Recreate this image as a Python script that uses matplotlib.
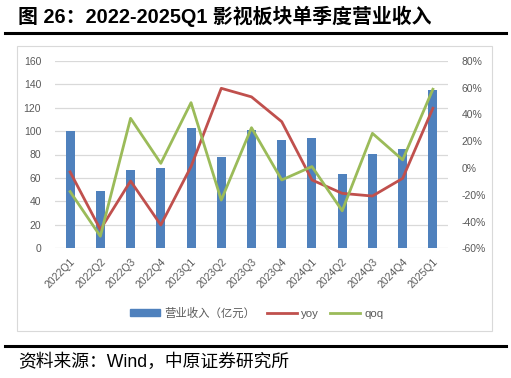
import matplotlib
matplotlib.use("Agg")
import matplotlib.pyplot as plt
import matplotlib.patches as mpatches
from matplotlib.lines import Line2D
import numpy as np

plt.rcParams['font.family'] = ['Liberation Sans', 'Noto Sans CJK SC', 'DejaVu Sans']

quarters = ["2022Q1", "2022Q2", "2022Q3", "2022Q4", "2023Q1", "2023Q2", "2023Q3",
            "2023Q4", "2024Q1", "2024Q2", "2024Q3", "2024Q4", "2025Q1"]
revenue = [100.0, 48.6, 66.8, 68.8, 102.3, 77.9, 101.0, 92.6, 93.8, 63.4, 80.2, 85.0, 135.0]
yoy = [-3.0, -46.0, -9.8, -42.6, 1.0, 59.4, 53.0, 34.5, -9.0, -19.0, -21.0, -7.8, 44.5]
qoq = [-17.7, -51.0, 37.0, 3.4, 48.7, -24.0, 30.0, -9.0, 1.0, -32.0, 25.8, 6.0, 58.7]
left_ticks = [0, 20, 40, 60, 80, 100, 120, 140, 160]
right_ticks = [-60, -40, -20, 0, 20, 40, 60, 80]

BAR = "#4F81BD"
RED = "#C0504D"
GREEN = "#9BBB59"
TICKC = "#595959"

W, H = 511, 378
fig = plt.figure(figsize=(W / 100, H / 100), dpi=100)

# title
fig.text(18 / W, 1 - 16 / H, "图 26：2022-2025Q1 影视板块单季度营业收入", fontsize=14.3,
         fontweight="bold", ha="left", va="center", color="#000000")
fig.add_artist(Line2D([5 / W, 506 / W], [1 - 33 / H, 1 - 33 / H], color="black", lw=2.2,
                      transform=fig.transFigure))
# chart frame
fig.add_artist(mpatches.Rectangle((17 / W, 1 - 331 / H), (492 - 17) / W, (331 - 46) / H,
                                  transform=fig.transFigure, fill=False,
                                  edgecolor="#D9D9D9", lw=0.8))
# bottom rule and source
fig.add_artist(Line2D([5 / W, 506 / W], [1 - 346 / H, 1 - 346 / H], color="black", lw=2.2,
                      transform=fig.transFigure))
fig.text(18 / W, 1 - 362 / H, "资料来源：Wind，中原证券研究所", fontsize=12.8,
         ha="left", va="center", color="#000000")

ax = fig.add_axes([55 / W, 1 - 248.3 / H, 393 / W, (248.3 - 60.7) / H])
x = np.arange(len(quarters))
ax.bar(x, revenue, width=0.3, color=BAR, zorder=2)
ax.set_xlim(-0.5, len(quarters) - 0.5)
ax.set_ylim(0, 160)
ax.set_yticks(left_ticks)
ax.grid(axis="y", color="#D9D9D9", lw=0.9, zorder=0)
ax.set_axisbelow(True)
for s in ax.spines.values():
    s.set_visible(False)
ax.tick_params(axis="both", length=0, colors=TICKC, labelsize=7.5)
ax.tick_params(axis="y", pad=10)
ax.set_xticks(x)
ax.set_xticklabels(quarters, rotation=45, ha="right", rotation_mode="anchor")
ax.tick_params(axis="x", pad=6)

ax2 = ax.twinx()
ax2.plot(x, yoy, color=RED, lw=2.0, zorder=3, solid_joinstyle="round")
ax2.plot(x, qoq, color=GREEN, lw=2.0, zorder=4, solid_joinstyle="round")
ax2.set_ylim(-60, 80)
ax2.set_yticks(right_ticks)
ax2.set_yticklabels([f"{t}%" for t in right_ticks])
for s in ax2.spines.values():
    s.set_visible(False)
ax2.tick_params(axis="y", length=0, colors=TICKC, labelsize=7.5, pad=10)

handles = [mpatches.Patch(color=BAR), Line2D([], [], color=RED, lw=2.0),
           Line2D([], [], color=GREEN, lw=2.0)]
labels = ["营业收入（亿元）", "yoy", "qoq"]
leg = fig.legend(handles, labels, loc="center", bbox_to_anchor=(257 / W, 1 - 313 / H),
                 ncol=3, frameon=False, fontsize=8.2, handlelength=2.6, handleheight=0.6,
                 columnspacing=1.0, handletextpad=0.4)
for t in leg.get_texts():
    t.set_color(TICKC)

fig.savefig("out.png", dpi=100)
